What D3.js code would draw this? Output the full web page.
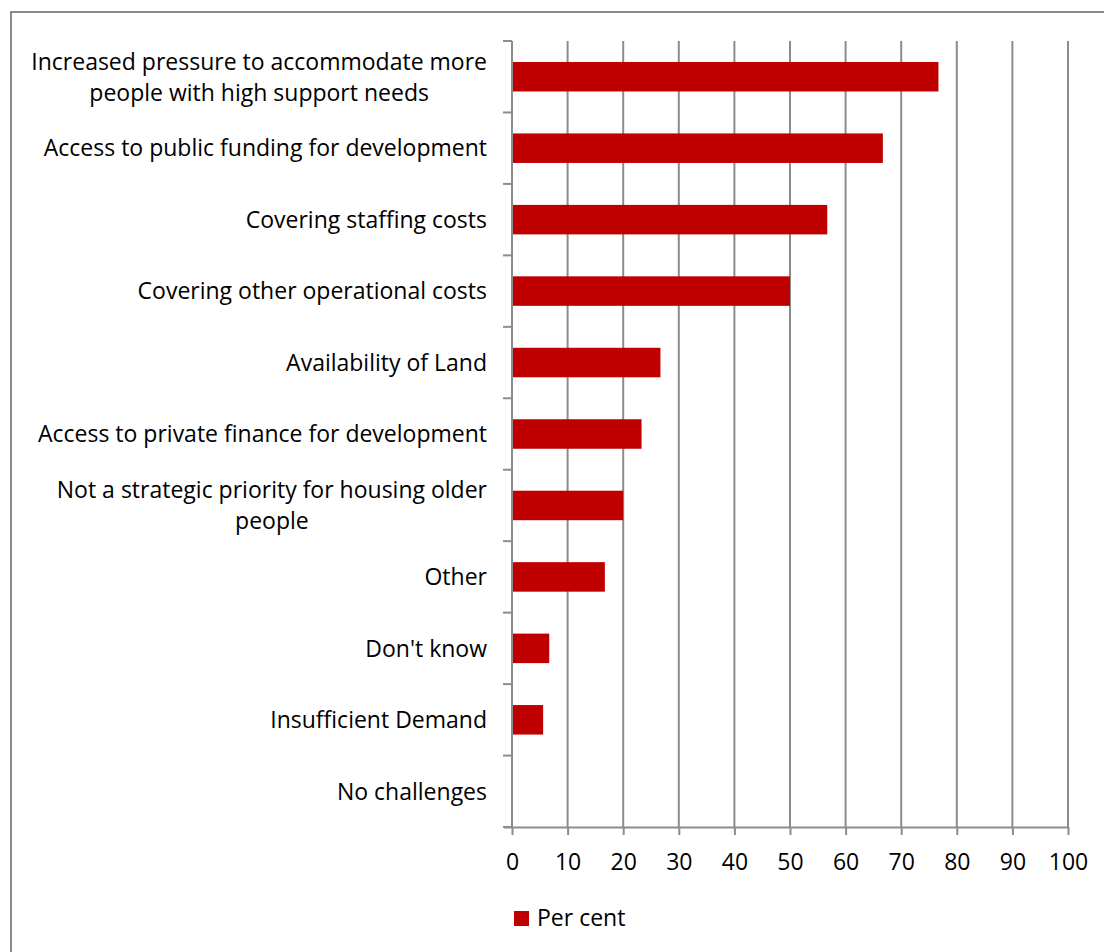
<!DOCTYPE html>
<html>
<head>
<meta charset="utf-8">
<script src="https://cdn.jsdelivr.net/npm/d3@7"></script>
<style>
  html, body { margin: 0; padding: 0; background: #fff; }
  svg { display: block; }
</style>
</head>
<body>
<svg id="chart" width="1104" height="952"></svg>
<script>
const categories = [
  ["Increased pressure to accommodate more", "people with high support needs"],
  ["Access to public funding for development"],
  ["Covering staffing costs"],
  ["Covering other operational costs"],
  ["Availability of Land"],
  ["Access to private finance for development"],
  ["Not a strategic priority for housing older", "people"],
  ["Other"],
  ["Don't know"],
  ["Insufficient Demand"],
  ["No challenges"]
];
const values = [76.7, 66.7, 56.7, 50.0, 26.7, 23.3, 20.0, 16.7, 6.7, 5.6, 0];
const xTicks = [0, 10, 20, 30, 40, 50, 60, 70, 80, 90, 100];
const seriesName = "Per cent";

const FONT = "'Open Sans', Lato, sans-serif";
const FS = 23;
const gridColor = "#8c8c8c";
const barColor = "#C00000";

const svg = d3.select("#chart");
const plot = { left: 512, right: 1068, top: 41, bottom: 827 };

// outer border
svg.append("rect")
  .attr("x", 11).attr("y", 12).attr("width", 1110).attr("height", 960)
  .attr("fill", "none").attr("stroke", "#8a8a8a").attr("stroke-width", 2);

const keys = categories.map((c, i) => i);
const x = d3.scaleLinear().domain([0, 100]).range([plot.left, plot.right]);
const pad = 0.587;
const y = d3.scaleBand().domain(keys).range([plot.top, plot.bottom])
  .paddingInner(pad).paddingOuter(pad / 2);

// gridlines
svg.append("g").selectAll("line").data(xTicks.slice(1)).join("line")
  .attr("x1", d => x(d)).attr("x2", d => x(d))
  .attr("y1", plot.top).attr("y2", plot.bottom)
  .attr("stroke", gridColor).attr("stroke-width", 2);

// bars
svg.append("g").selectAll("rect").data(values).join("rect")
  .attr("x", x(0))
  .attr("y", (d, i) => y(i))
  .attr("width", d => x(d) - x(0))
  .attr("height", y.bandwidth())
  .attr("fill", barColor);

// x axis
const xAxis = d3.axisBottom(x).tickValues(xTicks).tickSize(8).tickPadding(19)
  .tickFormat(d3.format("d"));
const gx = svg.append("g").attr("transform", `translate(0,${plot.bottom})`).call(xAxis);
gx.select(".domain").attr("stroke", gridColor).attr("stroke-width", 2)
  .attr("d", `M${plot.left - 8},0.5H${plot.right}`);
gx.selectAll(".tick line").attr("stroke", gridColor).attr("stroke-width", 2);
gx.selectAll(".tick text").attr("font-family", FONT).attr("font-size", FS)
  .attr("fill", "#000").attr("dy", "0.71em");

// y axis line and boundary ticks
const step = y.step();
const bounds = keys.map(k => y(k) - step * pad / 2).concat([plot.bottom]);
svg.append("line")
  .attr("x1", plot.left).attr("x2", plot.left)
  .attr("y1", plot.top).attr("y2", plot.bottom)
  .attr("stroke", gridColor).attr("stroke-width", 2);
svg.append("g").selectAll("line").data(bounds).join("line")
  .attr("x1", plot.left - 9).attr("x2", plot.left)
  .attr("y1", d => d).attr("y2", d => d)
  .attr("stroke", gridColor).attr("stroke-width", 2);

// category labels
const labelRight = 487;
const lineH = 31;
const lg = svg.append("g").attr("font-family", FONT).attr("font-size", FS).attr("fill", "#000");
categories.forEach((lines, i) => {
  const cy = y(i) + y.bandwidth() / 2;
  const t = lg.append("text").attr("text-anchor", "middle");
  lines.forEach((ln, j) => {
    t.append("tspan").attr("x", 0)
      .attr("y", cy + (j - (lines.length - 1) / 2) * lineH)
      .attr("dy", "0.36em").text(ln);
  });
  const w = d3.max(t.selectAll("tspan").nodes(), n => n.getComputedTextLength());
  t.selectAll("tspan").attr("x", labelRight - w / 2);
});

// legend
const leg = svg.append("g");
leg.append("rect").attr("x", 514).attr("y", 911).attr("width", 15).attr("height", 15).attr("fill", barColor);
leg.append("text").attr("x", 537).attr("y", 926)
  .attr("font-family", FONT).attr("font-size", FS).attr("fill", "#000").text(seriesName);
</script>
</body>
</html>
